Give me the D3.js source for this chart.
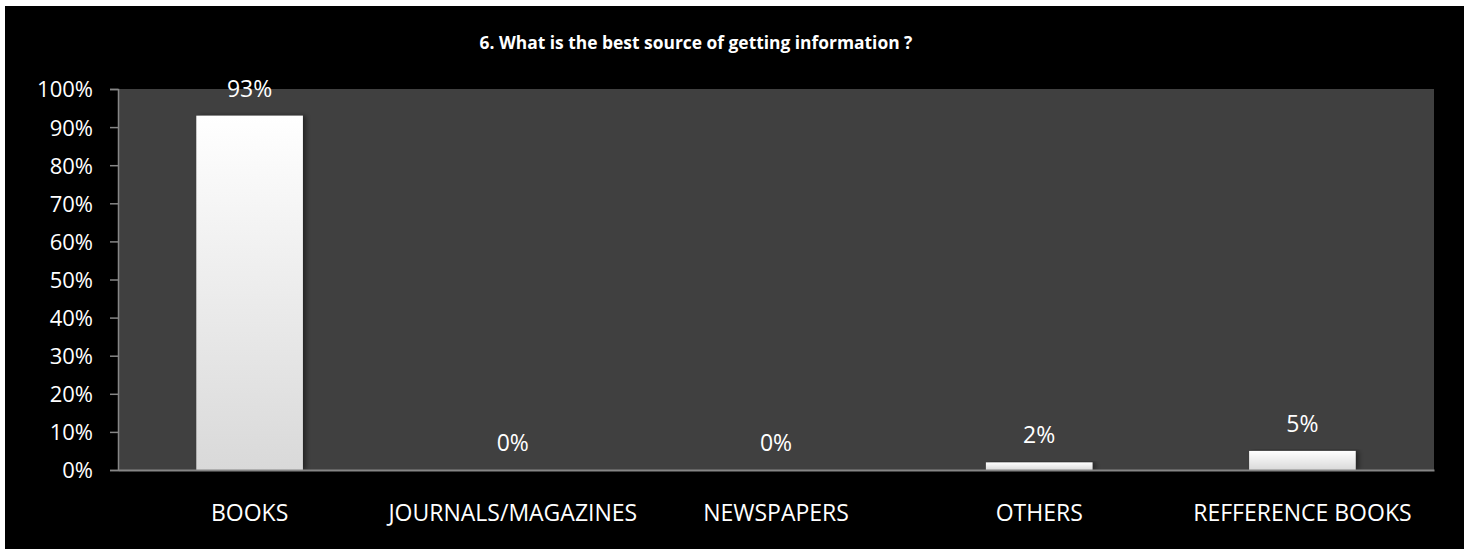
<!DOCTYPE html>
<html>
<head>
<meta charset="utf-8">
<script src="https://cdn.jsdelivr.net/npm/d3@7"></script>
<style>
  html, body { margin: 0; padding: 0; background: #ffffff; }
  svg { display: block; }
  text { font-family: "Open Sans", "Liberation Sans", sans-serif; }
</style>
</head>
<body>
<svg id="chart" width="1472" height="550"></svg>
<script>
const title = "6. What is the best source of getting information ?";
const categories = ["BOOKS", "JOURNALS/MAGAZINES", "NEWSPAPERS", "OTHERS", "REFFERENCE BOOKS"];
const values = [93, 0, 0, 2, 5];
const yTicks = [0, 10, 20, 30, 40, 50, 60, 70, 80, 90, 100];

const W = 1472, H = 550;
const svg = d3.select("#chart");

// outer black chart area
svg.append("rect").attr("x", 5).attr("y", 6).attr("width", 1459).attr("height", 543).attr("fill", "#000");

const plot = { left: 118, right: 1434, top: 89, bottom: 470 };

const x = d3.scaleBand().domain(categories).range([plot.left, plot.right]).padding(0);
const y = d3.scaleLinear().domain([0, 100]).range([plot.bottom, plot.top]);

// plot background
svg.append("rect")
  .attr("x", plot.left).attr("y", plot.top)
  .attr("width", plot.right - plot.left).attr("height", plot.bottom - plot.top)
  .attr("fill", "#404040");

const defs = svg.append("defs");
const grad = defs.append("linearGradient").attr("id", "barGrad")
  .attr("x1", 0).attr("y1", 0).attr("x2", 0).attr("y2", 1);
grad.append("stop").attr("offset", "0%").attr("stop-color", "#ffffff");
grad.append("stop").attr("offset", "100%").attr("stop-color", "#d9d9d9");

const shadow = defs.append("filter").attr("id", "shadow")
  .attr("x", "-10%").attr("y", "-10%").attr("width", "130%").attr("height", "130%");
shadow.append("feDropShadow").attr("dx", 3).attr("dy", 0).attr("stdDeviation", 2.5)
  .attr("flood-color", "#000").attr("flood-opacity", 0.45);

const barW = x.bandwidth() * 0.405;

svg.append("g").selectAll("rect")
  .data(values)
  .join("rect")
  .attr("x", (d, i) => x(categories[i]) + x.bandwidth() / 2 - barW / 2)
  .attr("y", d => y(d))
  .attr("width", barW)
  .attr("height", d => y(0) - y(d))
  .attr("fill", "url(#barGrad)")
  .attr("filter", "url(#shadow)");

// data labels
svg.append("g").selectAll("text")
  .data(values)
  .join("text")
  .attr("x", (d, i) => x(categories[i]) + x.bandwidth() / 2)
  .attr("y", d => y(d) - 19)
  .attr("text-anchor", "middle")
  .attr("fill", "#ffffff")
  .attr("font-size", 23)
  .text(d => d + "%");

// y axis
const yAxis = d3.axisLeft(y).tickValues(yTicks).tickFormat(d => d + "%").tickSize(8).tickPadding(17);
const gy = svg.append("g").attr("transform", `translate(${plot.left},0)`).call(yAxis);
gy.select(".domain").attr("stroke", "#868686").attr("stroke-width", 1.5);
gy.selectAll(".tick line").attr("stroke", "#868686").attr("stroke-width", 1.5);
gy.selectAll(".tick text").attr("fill", "#ffffff").attr("font-size", 22)
  .attr("font-family", "'Open Sans', sans-serif").attr("dy", "0.36em");

// x axis
const xAxis = d3.axisBottom(x).tickSize(0).tickPadding(35);
const gx = svg.append("g").attr("transform", `translate(0,${plot.bottom})`).call(xAxis);
gx.select(".domain").attr("stroke", "#868686").attr("stroke-width", 2);
gx.selectAll(".tick text").attr("fill", "#ffffff").attr("font-size", 23)
  .attr("font-family", "'Open Sans', sans-serif");

// title
svg.append("text")
  .attr("x", 696).attr("y", 49)
  .attr("text-anchor", "middle")
  .attr("fill", "#ffffff")
  .attr("font-size", 17.4)
  .attr("font-weight", "bold")
  .text(title);
</script>
</body>
</html>
